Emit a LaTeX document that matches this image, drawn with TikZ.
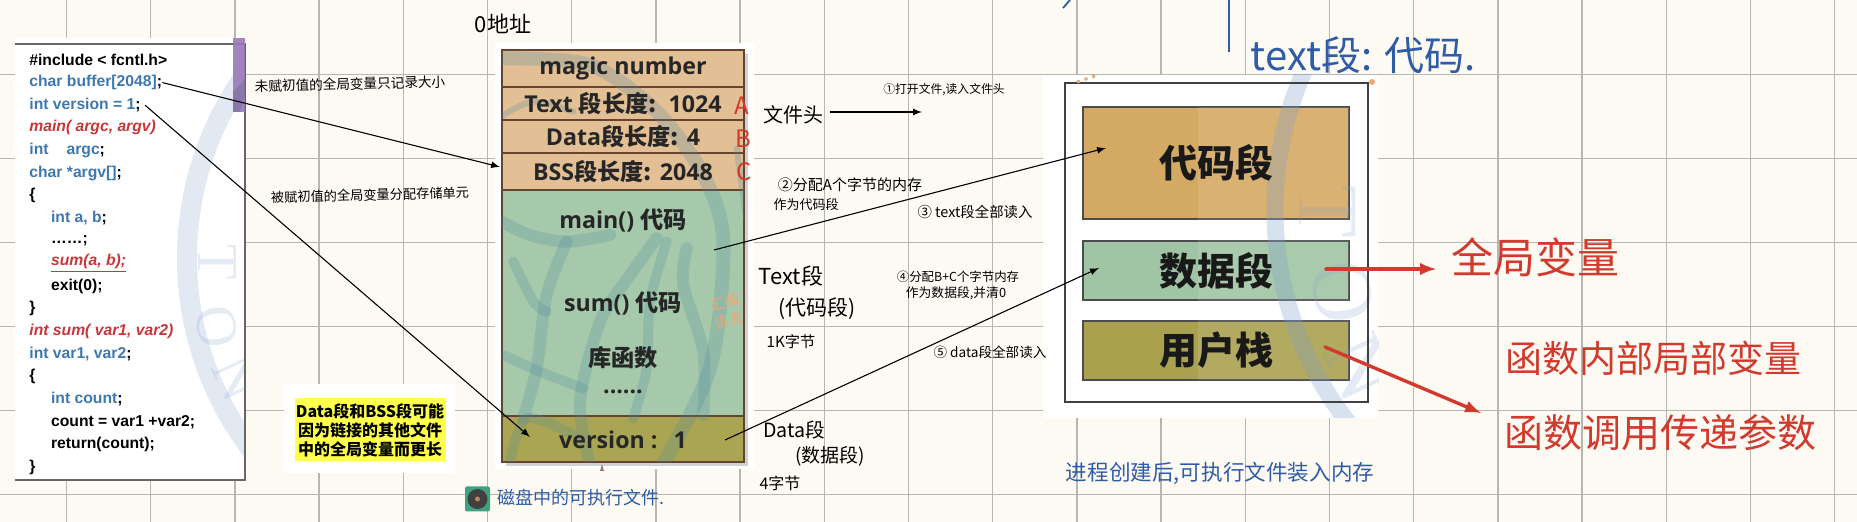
\documentclass[tikz,border=0pt]{standalone}
\usepackage{fontspec}
\usetikzlibrary{arrows}
\setmainfont{Liberation Sans}
\newfontfamily\cjk{Noto Sans CJK SC}
\newfontfamily\stackfont{Open Sans}
\newfontfamily\wmfont{Liberation Serif}
\newcommand{\zh}[1]{{\cjk #1}}
\definecolor{paper}{HTML}{FDFAF4}
\definecolor{gridgrey}{HTML}{B6B6B2}
\definecolor{codeblue}{HTML}{3E78B0}
\definecolor{codered}{HTML}{C5383A}
\definecolor{barpurple}{HTML}{9A78B8}
\definecolor{wmblue}{HTML}{7F9FCC}
\definecolor{wmteal}{HTML}{4F8AA0}
\definecolor{rowtan}{HTML}{E2BF94}
\definecolor{rowgreen}{HTML}{A6C9AB}
\definecolor{rowolive}{HTML}{AAA552}
\definecolor{rowbrown}{HTML}{66432F}
\definecolor{segtan}{HTML}{D4A964}
\definecolor{seggreen}{HTML}{A0C4A4}
\definecolor{segolive}{HTML}{A9A14E}
\definecolor{inkblue}{HTML}{2F5CA6}
\definecolor{inkred}{HTML}{D23A2E}
\definecolor{hiyellow}{HTML}{FFFF4D}
\definecolor{wmorange}{HTML}{EFA771}
\tikzset{
	gridline/.style={draw=gridgrey,line width=.65pt},
	codeline/.style={anchor=west,inner sep=0,font=\bfseries\fontsize{7.85}{9}\selectfont,text=#1},
	stackrow/.style={draw=rowbrown,line width=1pt,inner sep=0,minimum width=121pt,fill=#1},
	stacktext/.style={inner sep=0,text=black!85,font=\stackfont\bfseries\fontsize{11.6}{14}\selectfont},
	segbox/.style={draw=black!70,line width=.6pt,inner sep=0,minimum width=133pt,fill=#1},
	segtext/.style={inner sep=0,text=black!90,font=\cjk\bfseries\fontsize{#1}{#1}\selectfont},
	handtext/.style={inner sep=0,font=\cjk\fontsize{#1}{#1}\selectfont},
	wmring/.style={draw=wmblue,opacity=#1},
	wmletter/.style={inner sep=0,text=wmblue,opacity=.2},
	wmbranch/.style={draw=wmteal,opacity=.25,line cap=round,line width=#1},
	thinarrow/.style={-latex,line width=.55pt,black},
	redarrow/.style={-latex,line width=1.7pt,inkred,line cap=round}
}

\begin{document}
\begin{tikzpicture}[x=.5pt,y=-.5pt]
	\useasboundingbox (0,0) rectangle (1857,522);
	\fill[paper] (0,0) rectangle (1857,522);
	\foreach \gx in {0,...,21} \draw[gridline] ({66.5+84.2*\gx},0) -- ({66.5+84.2*\gx},522);
	\foreach \gy in {0,...,5} \draw[gridline] (0,{74.3+84.1*\gy}) -- (1857,{74.3+84.1*\gy});

	% code listing
	\fill[white] (15,38) rectangle (245,481);
	\begin{scope}
		\clip (15,38) rectangle (245,481);
		\draw[wmring=.22,line width=10pt] (505,258) circle (318);
		\node[wmletter,font=\wmfont\fontsize{29}{29}\selectfont,rotate=-90] at (217,262) {T};
		\node[wmletter,font=\wmfont\fontsize{29}{29}\selectfont,rotate=-80] at (217,327) {O};
		\node[wmletter,font=\wmfont\fontsize{29}{29}\selectfont,rotate=-65] at (237,378) {N};
	\end{scope}
	\draw[black!60,line width=.6pt] (15,44) -- (245,44) -- (245,480) -- (15,480);
	\fill[barpurple,opacity=.9] (233,38) rectangle (245,112);
	\fill[wmblue!60!black,opacity=.3] (245,80) -- (233,92) -- (233,112) -- (240,112) -- (245,95) -- cycle;

	\node[codeline=black] (includeline) at (29,60) {\#include < fcntl.h>};
	\node[codeline=codeblue] (bufferline) at (29,82.6) {char buffer[2048]\textcolor{black}{;}};
	\node[codeline=codeblue] (versionline) at (29,105.2) {int version = 1\textcolor{black}{;}};
	\node[codeline=codered] (mainline) at (29,127.9) {\itshape main( argc, argv)};
	\node[codeline=codeblue] (argcline) at (29,150.5) {int\hspace{9pt}argc\textcolor{black}{;}};
	\node[codeline=codeblue] (argvline) at (29,173.1) {char *argv[]\textcolor{black}{;}};
	\node[codeline=black] (openmain) at (29,195.7) {\{};
	\node[codeline=codeblue] (abline) at (50.7,218.3) {int a, b\textcolor{black}{;}};
	\node[codeline=black] (dotsline) at (50.7,241) {……;};
	\node[codeline=codered] (callline) at (50.7,263.6) {\itshape\underline{sum(a, b);}};
	\node[codeline=black] (exitline) at (50.7,286.2) {exit(0);};
	\node[codeline=black] (closemain) at (29,308.8) {\}};
	\node[codeline=codered] (sumline) at (29,331.5) {\itshape int sum( var1, var2)};
	\node[codeline=codeblue] (varline) at (29,354.1) {int var1, var2\textcolor{black}{;}};
	\node[codeline=black] (opensum) at (29,376.7) {\{};
	\node[codeline=codeblue] (countline) at (50.7,399.3) {int count\textcolor{black}{;}};
	\node[codeline=black] (addline) at (50.7,421.9) {count = var1 +var2;};
	\node[codeline=black] (returnline) at (50.7,444.6) {return(count);};
	\node[codeline=black] (closesum) at (29,467.2) {\}};

	% yellow note
	\fill[white] (284,384) rectangle (455,473);
	\fill[hiyellow] (295,398) rectangle (446,461);
	\node[inner sep=0,align=center,font=\cjk\bfseries\fontsize{8}{9.5}\selectfont] (notetext) at (370,430) {Data段和BSS段可能\\因为链接的其他文件\\中的全局变量而更长};

	% file layout
	\fill[white] (495,43) rectangle (754,469);
	\fill[black,opacity=.18] (506,54) rectangle (748,466);
	\node[stackrow=rowtan,minimum height=18.65pt] (magicrow) at (623,68.6) {};
	\node[stackrow=rowtan,minimum height=16.35pt] (textrow) at (623,103.6) {};
	\node[stackrow=rowtan,minimum height=16.65pt] (datarow) at (623,136.6) {};
	\node[stackrow=rowtan,minimum height=18.35pt] (bssrow) at (623,171.6) {};
	\node[stackrow=rowgreen,minimum height=113pt] (coderow) at (623,303) {};
	\node[stackrow=rowolive,minimum height=22.85pt] (versionrow) at (623,438.8) {};
	\begin{scope}
		\clip (502,50) rectangle (744,462);
		\begin{scope}[shift={(490,35)},x=.16667pt,y=-.16667pt]
			\draw[wmbranch=7pt] plot[smooth] coordinates {(30,70) (300,90) (500,230) (640,420) (700,620) (660,1000) (500,1320)};
			\draw[wmbranch=6pt] plot[smooth] coordinates {(35,560) (120,600) (230,620) (360,600)};
			\draw[wmbranch=6pt] plot[smooth] coordinates {(230,620) (170,780) (140,1000) (100,1150)};
			\draw[wmbranch=5pt] plot[smooth] coordinates {(70,680) (130,800) (170,830)};
			\draw[wmbranch=6pt] plot[smooth] coordinates {(500,610) (420,720) (330,860) (270,1100) (300,1290)};
			\draw[wmbranch=5pt] plot[smooth] coordinates {(530,620) (480,800) (470,1000) (430,1150)};
			\draw[wmbranch=6pt] plot[smooth] coordinates {(590,640) (580,750) (640,950) (640,1140)};
			\draw[wmbranch=5pt] plot[smooth] coordinates {(40,960) (150,1010) (280,1060)};
			\draw[wmbranch=5pt] plot[smooth] coordinates {(60,1280) (110,1150) (250,1200)};
			\draw[wmbranch=3pt] plot[smooth] coordinates {(740,340) (770,560)};
			\draw[wmbranch=3pt] plot[smooth] coordinates {(40,240) (130,200) (250,230)};
		\end{scope}
	\end{scope}
	\node[stacktext] (magictext) at (magicrow) {magic number};
	\node[stacktext] (texttext) at (textrow) {Text \zh{段长度:}\hspace{6pt}1024};
	\node[stacktext] (datatext) at (datarow) {Data\zh{段长度:} 4};
	\node[stacktext] (bsstext) at (bssrow) {BSS\zh{段长度:}\hspace{4pt}2048};
	\node[stacktext] (maintext) at (623,220) {main() \zh{代码}};
	\node[stacktext] (sumtext) at (623,303) {sum() \zh{代码}};
	\node[stacktext] (libtext) at (623,358) {\zh{库函数}};
	\node[stacktext] (moretext) at (623,392) {......};
	\node[stacktext] (versiontext) at (623,440) {version :\hspace{8pt}1};
	\node[handtext=7.2,text=wmorange,rotate=15] (wmone) at (725,302) {汇编};
	\node[handtext=7.2,text=wmorange,rotate=15] (wmtwo) at (729,320) {语言};
	\node[handtext=12,text=inkred] (lenA) at (742,106) {A};
	\node[handtext=12,text=inkred] (lenB) at (743,139) {B};
	\node[handtext=12,text=inkred] (lenC) at (744,172) {C};
	\fill[rowbrown!70] (600,471) -- (604,471) -- (602,464) -- cycle;

	% process image
	\fill[white] (1043,75) rectangle (1378,418);
	\node[segbox=segtan,minimum height=56pt] (codeseg) at (1216,163) {};
	\node[segbox=seggreen,minimum height=29.5pt] (dataseg) at (1216,270.5) {};
	\node[segbox=segolive,minimum height=29.5pt] (stackseg) at (1216,350.5) {};
	\fill[white,opacity=.1] (1198,107) rectangle (1349,380);
	\begin{scope}
		\clip (1043,75) rectangle (1378,418);
		\draw[wmring=.3,line width=8.5pt] (1620,210) circle (345);
		\node[wmletter,font=\wmfont\fontsize{43}{43}\selectfont,rotate=-90] at (1328,212) {T};
		\node[wmletter,font=\wmfont\fontsize{43}{43}\selectfont,rotate=-80] at (1342,292) {O};
		\node[wmletter,font=\wmfont\fontsize{43}{43}\selectfont,rotate=-65] at (1360,368) {N};
	\end{scope}
	\draw[black!75,line width=1pt] (1065,83) rectangle (1368,402);
	\node[segtext=19] (codetext) at (codeseg) {代码段};
	\node[segtext=19] (datasegtext) at (dataseg) {数据段};
	\node[segtext=19] (stacktext) at (stackseg) {用户栈};
	\draw[wmorange,line width=1.5pt,dash pattern=on 1.5pt off 2.5pt] (1077,82) -- (1095,76);
	\fill[wmorange] (1372,82) circle (3);

	% handwritten labels
	\node[handtext=11] (zeroaddr) at (503,24) {0地址};
	\node[handtext=6.8,rotate=1.5] (bsslabel) at (350,84) {未赋初值的全局变量只记录大小};
	\node[handtext=6.6,rotate=1.5] (datalabel) at (370,195) {被赋初值的全局变量分配存储单元};
	\node[handtext=10] (headlabel) at (793,115) {文件头};
	\node[handtext=5.9] (stepone) at (944,90) {①打开文件,读入文件头};
	\node[handtext=7.5] (steptwoa) at (850,185) {②分配A个字节的内存};
	\node[handtext=6.5] (steptwob) at (806,205) {作为代码段};
	\node[handtext=7.2] (stepthree) at (975,212) {③ text段全部读入};
	\node[handtext=11] (textlabel) at (791,276) {Text段};
	\node[handtext=10.5] (textnote) at (817,309) {(代码段)};
	\node[handtext=7.6] (textsize) at (791,342) {1K字节};
	\node[handtext=6.2] (stepfoura) at (958,277) {④分配B+C个字节内存};
	\node[handtext=6.4] (stepfourb) at (956,293) {作为数据段,并清0};
	\node[handtext=6.8] (stepfive) at (990,352) {⑤ data段全部读入};
	\node[handtext=9.8] (datalab) at (794,430) {Data段};
	\node[handtext=9.5] (datanote) at (830,456) {(数据段)};
	\node[handtext=8] (datasize) at (780,483) {4字节};
	\node[handtext=10.8,text=inkblue] (loadlabel) at (1220,473) {进程创建后,可执行文件装入内存};
	\node[handtext=9,text=inkblue] (disklabel) at (581,498) {磁盘中的可执行文件.};
	\node[handtext=20,text=inkblue] (seglabel) at (1363,55) {text段: 代码.};
	\node[handtext=21,text=inkred] (globallabel) at (1535,257) {全局变量};
	\node[handtext=18.5,text=inkred] (locallabel) at (1653,358) {函数内部局部变量};
	\node[handtext=19.5,text=inkred] (paramlabel) at (1660,433) {函数调用传递参数};

	% disk icon
	\node[fill=wmteal!80!green,rounded corners=1pt,inner sep=0,minimum size=12.5pt] (diskicon) at (477.5,499) {};
	\fill[black!75] (diskicon) circle (10);
	\fill[wmorange!80!black] (diskicon) circle (2.5);

	% blue strokes at the top
	\draw[inkblue,line width=.9pt] (1229,0) -- (1229,52);
	\draw[inkblue,line width=.9pt] (1063,8) -- (1070,0);

	% connectors
	\coordinate (bssin) at (500,167);
	\coordinate (versionin) at (530,437);
	\coordinate (headout) at (830,112);
	\coordinate (headin) at (922,112);
	\coordinate (textout) at (714,250);
	\coordinate (codein) at (1106,148);
	\coordinate (dataout) at (725,440);
	\coordinate (datain) at (1099,268);
	\coordinate (globalout) at (1326,269);
	\coordinate (globalin) at (1436,269);
	\coordinate (stackout) at (1325,347);
	\coordinate (stackin) at (1481,413);
	\draw[thinarrow] (bufferline.east) -- (bssin);
	\draw[thinarrow] ([xshift=2pt]versionline.east) -- (versionin);
	\draw[thinarrow] (headout) -- (headin);
	\draw[thinarrow] (textout) -- (codein);
	\draw[thinarrow] (dataout) -- (datain);
	\draw[redarrow] (globalout) -- (globalin);
	\draw[redarrow] (stackout) -- (stackin);
\end{tikzpicture}
\end{document}
